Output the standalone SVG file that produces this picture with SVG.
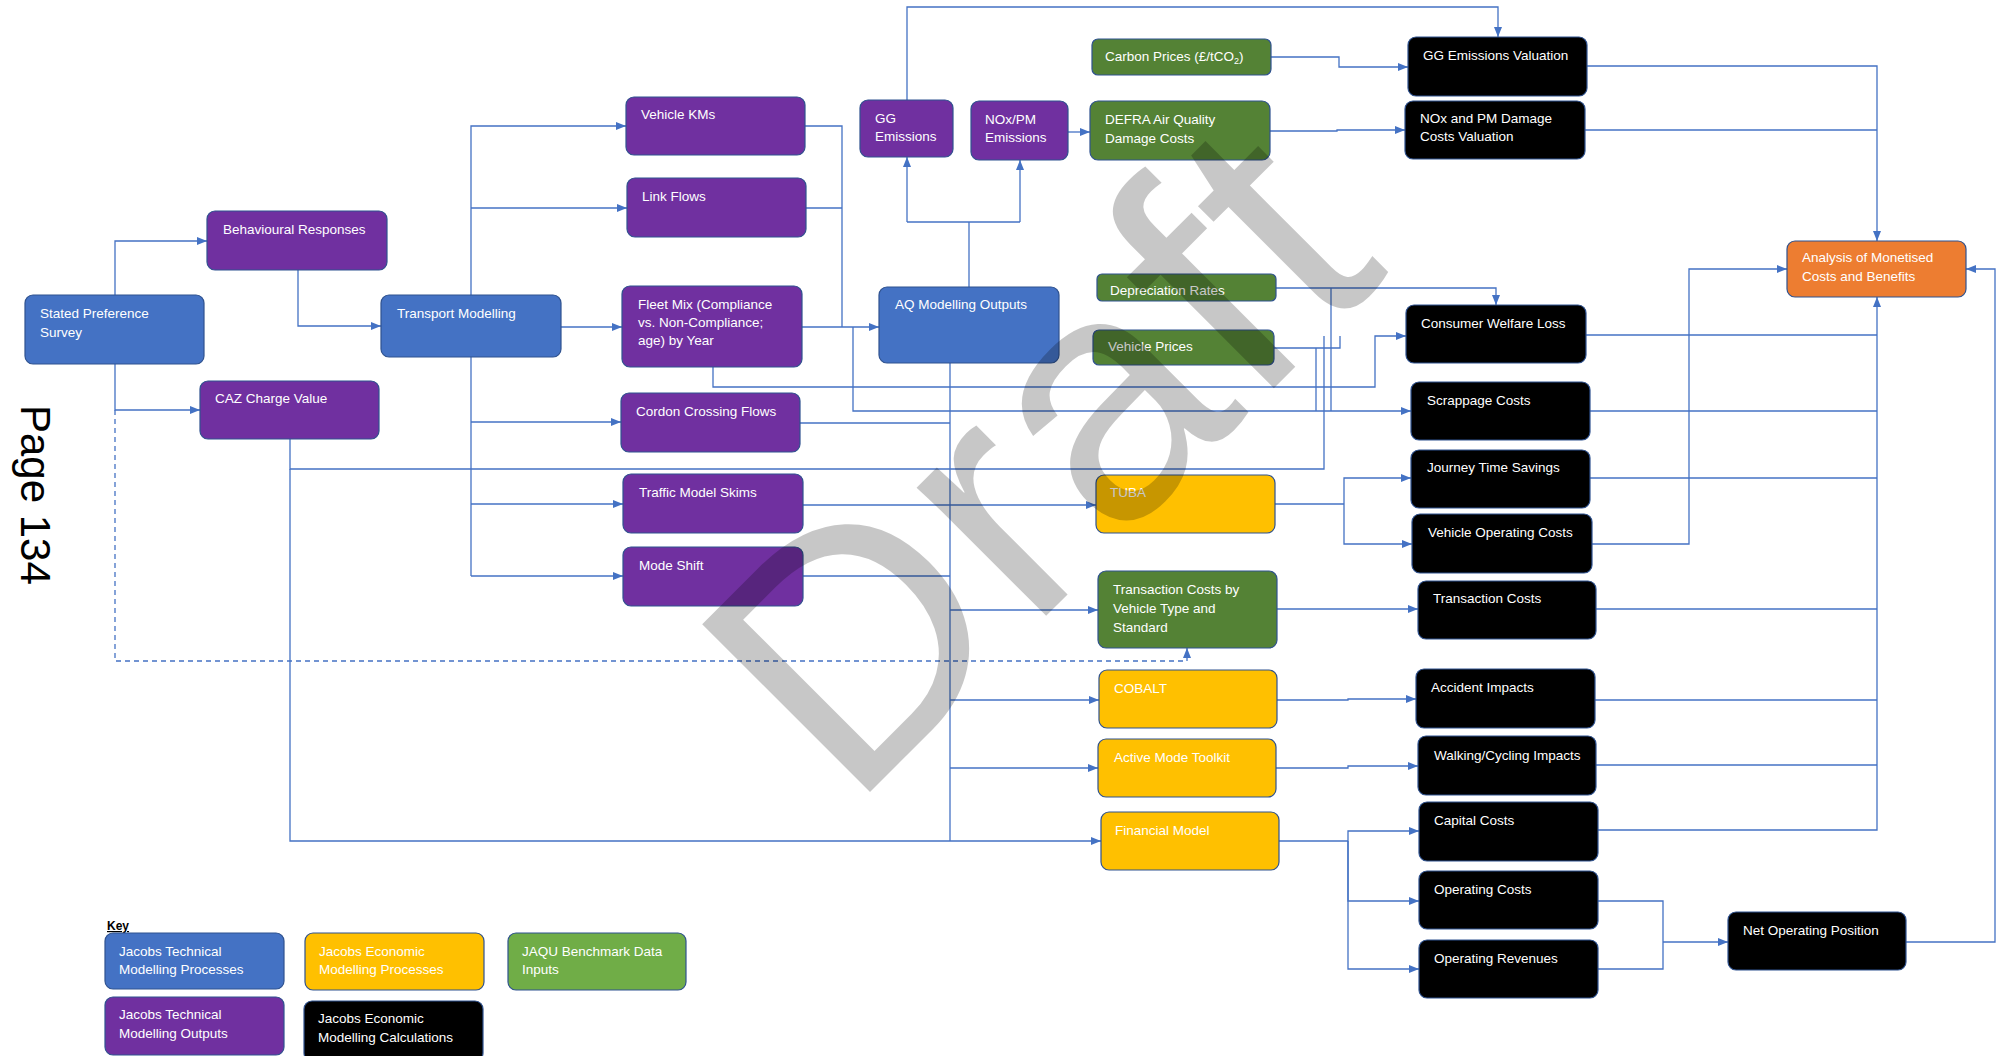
<svg xmlns="http://www.w3.org/2000/svg" width="2000" height="1056" viewBox="0 0 2000 1056">
  <defs>
    <marker id="arr" markerUnits="userSpaceOnUse" markerWidth="10" markerHeight="8" refX="10" refY="4" orient="auto">
      <path d="M0,0 L10,4 L0,8 z" fill="#4472c4"/>
    </marker>
    <style>
      rect.box { stroke:#2f528f; stroke-width:1.2; }
      .blue { fill:#4472c4; }
      .purple { fill:#7030a0; }
      .green { fill:#548235; }
      .lgreen { fill:#70ad47; }
      .yellow { fill:#ffc000; }
      .black { fill:#000000; }
      .orange { fill:#ed7d31; }
      text.t { font-family:"Liberation Sans", Arial, sans-serif; font-size:13.5px; fill:#ffffff; }
      #connectors path { fill:none; stroke:#4472c4; stroke-width:1.3; }
      #connectors path.a { marker-end:url(#arr); }
      #connectors path.dash { stroke-dasharray:5 4; }
    </style>
  </defs>
  <rect width="2000" height="1056" fill="#ffffff"/>

  <!-- connectors -->
  <g id="connectors">
    <!-- survey outputs -->
    <path class="a" d="M115,295 V241 H207"/>
    <path class="a" d="M115,364 V410 H200"/>
    <path class="a dash" d="M115,410 V661 H1187 V648"/>
    <path class="a" d="M298,270 V326 H381"/>
    <!-- transport modelling fan-out -->
    <path class="a" d="M471,295 V126 H626"/>
    <path class="a" d="M471,208 H627"/>
    <path class="a" d="M561,327 H622"/>
    <path d="M471,357 V576"/>
    <path class="a" d="M471,422 H621"/>
    <path class="a" d="M471,504 H623"/>
    <path class="a" d="M471,576 H623"/>
    <!-- into AQ modelling -->
    <path d="M805,126 H842 V327"/>
    <path d="M806,208 H842"/>
    <path class="a" d="M802,327 H879"/>
    <!-- fleet mix to welfare / scrappage -->
    <path class="a" d="M713,367 V387 H1375 V336 H1406"/>
    <path class="a" d="M853,327 V411 H1411"/>
    <!-- CAZ charge value -->
    <path d="M290,439 V469 H1324 V336"/>
    <path class="a" d="M290,469 V841 H1101"/>
    <!-- transport outputs to economic models -->
    <path d="M800,423 H950"/>
    <path class="a" d="M803,505 H1096"/>
    <path d="M803,576 H950"/>
    <path d="M950,363 V841"/>
    <path class="a" d="M950,610 H1098"/>
    <path class="a" d="M950,700 H1099"/>
    <path class="a" d="M950,768 H1098"/>
    <!-- emissions -->
    <path d="M969,287 V222"/>
    <path d="M907,222 H1020"/>
    <path class="a" d="M907,222 V157"/>
    <path class="a" d="M1020,222 V160"/>
    <path class="a" d="M907,100 V7 H1498 V37"/>
    <path class="a" d="M1068,132 H1090"/>
    <path class="a" d="M1271,57 H1339 V67 H1408"/>
    <path class="a" d="M1270,131 H1337 V130 H1405"/>
    <!-- depreciation and vehicle prices -->
    <path class="a" d="M1276,288 H1496 V305"/>
    <path d="M1331,288 V411"/>
    <path d="M1274,348 H1340 V336"/>
    <path d="M1316,348 V411"/>
    <!-- TUBA -->
    <path d="M1275,504 H1344"/>
    <path class="a" d="M1344,504 V478 H1411"/>
    <path class="a" d="M1344,504 V544 H1412"/>
    <!-- other economic models -->
    <path class="a" d="M1277,609 H1418"/>
    <path class="a" d="M1277,700 H1348 V699 H1416"/>
    <path class="a" d="M1276,768 H1348 V766 H1418"/>
    <path d="M1279,841 H1348"/>
    <path class="a" d="M1348,841 V831 H1419"/>
    <path class="a" d="M1348,841 V901 H1419"/>
    <path class="a" d="M1348,841 V969 H1419"/>
    <!-- net operating position -->
    <path d="M1598,901 H1663 V969 H1598"/>
    <path class="a" d="M1663,942 H1728"/>
    <path class="a" d="M1906,942 H1995 V269 H1966"/>
    <!-- into analysis of monetised costs and benefits -->
    <path class="a" d="M1587,66 H1877 V241"/>
    <path d="M1585,130 H1877"/>
    <path d="M1586,335 H1877"/>
    <path d="M1590,411 H1877"/>
    <path d="M1590,478 H1877"/>
    <path d="M1596,609 H1877"/>
    <path d="M1595,700 H1877"/>
    <path d="M1596,765 H1877"/>
    <path class="a" d="M1598,830 H1877 V297"/>
    <path class="a" d="M1592,544 H1689 V269 H1787"/>
  </g>

  <!-- nodes -->
  <g id="stated-preference"><rect class="box blue" x="25" y="295" width="179" height="69" rx="8"/><text class="t" x="40" y="318">Stated Preference<tspan x="40" dy="19">Survey</tspan></text></g>
  <g id="behavioural-responses"><rect class="box purple" x="207" y="211" width="180" height="59" rx="8"/><text class="t" x="223" y="234">Behavioural Responses</text></g>
  <g id="caz-charge-value"><rect class="box purple" x="200" y="381" width="179" height="58" rx="8"/><text class="t" x="215" y="403">CAZ Charge Value</text></g>
  <g id="transport-modelling"><rect class="box blue" x="381" y="295" width="180" height="62" rx="8"/><text class="t" x="397" y="318">Transport  Modelling</text></g>
  <g id="vehicle-kms"><rect class="box purple" x="626" y="97" width="179" height="58" rx="8"/><text class="t" x="641" y="119">Vehicle KMs</text></g>
  <g id="link-flows"><rect class="box purple" x="627" y="178" width="179" height="59" rx="8"/><text class="t" x="642" y="201">Link Flows</text></g>
  <g id="fleet-mix"><rect class="box purple" x="622" y="286" width="180" height="81" rx="8"/><text class="t" x="638" y="309">Fleet Mix (Compliance<tspan x="638" dy="18">vs. Non-Compliance;</tspan><tspan x="638" dy="18">age) by Year</tspan></text></g>
  <g id="cordon-crossing-flows"><rect class="box purple" x="621" y="393" width="179" height="59" rx="8"/><text class="t" x="636" y="416">Cordon Crossing Flows</text></g>
  <g id="traffic-model-skims"><rect class="box purple" x="623" y="474" width="180" height="59" rx="8"/><text class="t" x="639" y="497">Traffic Model Skims</text></g>
  <g id="mode-shift"><rect class="box purple" x="623" y="547" width="180" height="59" rx="8"/><text class="t" x="639" y="570">Mode Shift</text></g>
  <g id="gg-emissions"><rect class="box purple" x="860" y="100" width="93" height="57" rx="8"/><text class="t" x="875" y="123">GG<tspan x="875" dy="18">Emissions</tspan></text></g>
  <g id="nox-pm-emissions"><rect class="box purple" x="971" y="101" width="97" height="59" rx="8"/><text class="t" x="985" y="124">NOx/PM<tspan x="985" dy="18">Emissions</tspan></text></g>
  <g id="aq-modelling-outputs"><rect class="box blue" x="879" y="287" width="180" height="76" rx="8"/><text class="t" x="895" y="309">AQ Modelling Outputs</text></g>
  <g id="carbon-prices"><rect class="box green" x="1092" y="39" width="179" height="36" rx="6"/><text class="t" x="1105" y="61">Carbon Prices (£/tCO<tspan font-size="9" dy="3">2</tspan><tspan dy="-3">)</tspan></text></g>
  <g id="defra-damage-costs"><rect class="box green" x="1090" y="101" width="180" height="59" rx="8"/><text class="t" x="1105" y="124">DEFRA Air Quality<tspan x="1105" dy="19">Damage Costs</tspan></text></g>
  <g id="depreciation-rates"><rect class="box green" x="1097" y="274" width="179" height="27" rx="5"/><text class="t" x="1110" y="295">Depreciation Rates</text></g>
  <g id="vehicle-prices"><rect class="box green" x="1093" y="330" width="181" height="35" rx="6"/><text class="t" x="1108" y="351">Vehicle Prices</text></g>
  <g id="tuba"><rect class="box yellow" x="1096" y="475" width="179" height="58" rx="8"/><text class="t" x="1110" y="497">TUBA</text></g>
  <g id="transaction-cost-inputs"><rect class="box green" x="1098" y="571" width="179" height="77" rx="8"/><text class="t" x="1113" y="594">Transaction Costs by<tspan x="1113" dy="19">Vehicle Type and</tspan><tspan x="1113" dy="19">Standard</tspan></text></g>
  <g id="cobalt"><rect class="box yellow" x="1099" y="670" width="178" height="58" rx="8"/><text class="t" x="1114" y="693">COBALT</text></g>
  <g id="active-mode-toolkit"><rect class="box yellow" x="1098" y="739" width="178" height="58" rx="8"/><text class="t" x="1114" y="762">Active Mode Toolkit</text></g>
  <g id="financial-model"><rect class="box yellow" x="1101" y="812" width="178" height="58" rx="8"/><text class="t" x="1115" y="835">Financial Model</text></g>
  <g id="gg-emissions-valuation"><rect class="box black" x="1408" y="37" width="179" height="59" rx="8"/><text class="t" x="1423" y="60">GG Emissions Valuation</text></g>
  <g id="nox-pm-valuation"><rect class="box black" x="1405" y="101" width="180" height="58" rx="8"/><text class="t" x="1420" y="123">NOx and PM Damage<tspan x="1420" dy="18">Costs Valuation</tspan></text></g>
  <g id="consumer-welfare-loss"><rect class="box black" x="1406" y="305" width="180" height="58" rx="8"/><text class="t" x="1421" y="328">Consumer Welfare Loss</text></g>
  <g id="scrappage-costs"><rect class="box black" x="1411" y="382" width="179" height="58" rx="8"/><text class="t" x="1427" y="405">Scrappage Costs</text></g>
  <g id="journey-time-savings"><rect class="box black" x="1411" y="450" width="179" height="58" rx="8"/><text class="t" x="1427" y="472">Journey Time Savings</text></g>
  <g id="vehicle-operating-costs"><rect class="box black" x="1412" y="514" width="180" height="59" rx="8"/><text class="t" x="1428" y="537">Vehicle Operating Costs</text></g>
  <g id="transaction-costs"><rect class="box black" x="1418" y="581" width="178" height="58" rx="8"/><text class="t" x="1433" y="603">Transaction Costs</text></g>
  <g id="accident-impacts"><rect class="box black" x="1416" y="669" width="179" height="59" rx="8"/><text class="t" x="1431" y="692">Accident Impacts</text></g>
  <g id="walking-cycling-impacts"><rect class="box black" x="1418" y="736" width="178" height="59" rx="8"/><text class="t" x="1434" y="760">Walking/Cycling Impacts</text></g>
  <g id="capital-costs"><rect class="box black" x="1419" y="802" width="179" height="59" rx="8"/><text class="t" x="1434" y="825">Capital Costs</text></g>
  <g id="operating-costs"><rect class="box black" x="1419" y="871" width="179" height="58" rx="8"/><text class="t" x="1434" y="894">Operating Costs</text></g>
  <g id="operating-revenues"><rect class="box black" x="1419" y="940" width="179" height="58" rx="8"/><text class="t" x="1434" y="963">Operating Revenues</text></g>
  <g id="net-operating-position"><rect class="box black" x="1728" y="912" width="178" height="58" rx="8"/><text class="t" x="1743" y="935">Net Operating Position</text></g>
  <g id="analysis-monetised"><rect class="box orange" x="1787" y="241" width="179" height="56" rx="8"/><text class="t" x="1802" y="262">Analysis of Monetised<tspan x="1802" dy="19">Costs and Benefits</tspan></text></g>

  <!-- key -->
  <g id="key">
    <text x="107" y="930" font-family="Liberation Sans, Arial, sans-serif" font-size="12" font-weight="bold" text-decoration="underline" fill="#000">Key</text>
    <g id="key-technical-processes"><rect class="box blue" x="105" y="933" width="179" height="56" rx="8"/><text class="t" x="119" y="956">Jacobs Technical<tspan x="119" dy="18">Modelling Processes</tspan></text></g>
    <g id="key-economic-processes"><rect class="box yellow" x="305" y="933" width="179" height="57" rx="8"/><text class="t" x="319" y="956">Jacobs Economic<tspan x="319" dy="18">Modelling Processes</tspan></text></g>
    <g id="key-jaqu-inputs"><rect class="box lgreen" x="508" y="933" width="178" height="57" rx="8"/><text class="t" x="522" y="956">JAQU Benchmark Data<tspan x="522" dy="18">Inputs</tspan></text></g>
    <g id="key-technical-outputs"><rect class="box purple" x="105" y="997" width="179" height="58" rx="8"/><text class="t" x="119" y="1019">Jacobs Technical<tspan x="119" dy="19">Modelling Outputs</tspan></text></g>
    <g id="key-economic-calculations"><rect class="box black" x="304" y="1001" width="179" height="60" rx="8"/><text class="t" x="318" y="1023">Jacobs Economic<tspan x="318" dy="19">Modelling Calculations</tspan></text></g>
  </g>

  <!-- watermark -->
  <text x="0" y="0" transform="translate(850,812) rotate(-45)" font-family="Liberation Sans, Arial, sans-serif" font-size="345" textLength="765" lengthAdjust="spacing" fill="#000" fill-opacity="0.22">Draft</text>

  <!-- page number -->
  <text x="0" y="0" transform="translate(21,405) rotate(90)" font-family="Liberation Sans, Arial, sans-serif" font-size="42" fill="#000">Page 134</text>
</svg>
